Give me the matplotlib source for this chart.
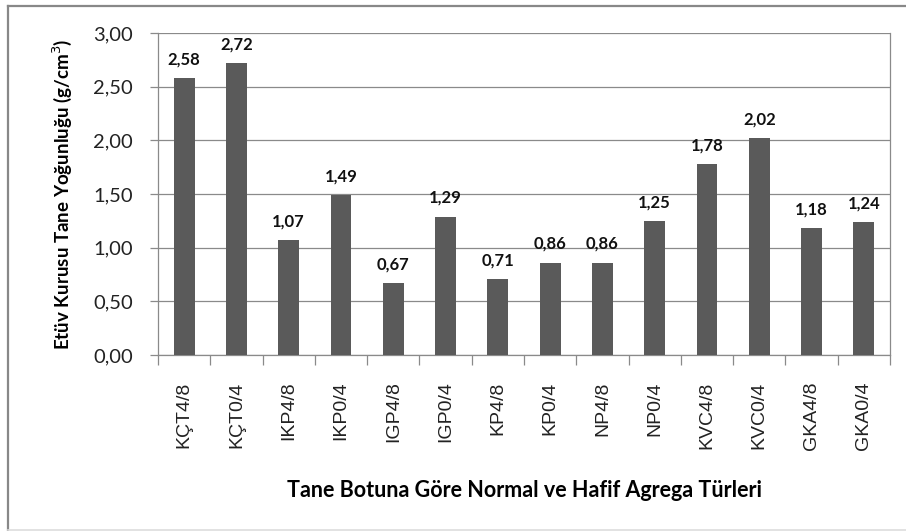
import matplotlib
matplotlib.use('Agg')
import matplotlib.pyplot as plt
from matplotlib.lines import Line2D
import numpy as np

categories = ['KÇT4/8', 'KÇT0/4', 'IKP4/8', 'IKP0/4', 'IGP4/8', 'IGP0/4', 'KP4/8',
              'KP0/4', 'NP4/8', 'NP0/4', 'KVC4/8', 'KVC0/4', 'GKA4/8', 'GKA0/4']
values = [2.58, 2.72, 1.07, 1.49, 0.67, 1.29, 0.71, 0.86, 0.86, 1.25, 1.78, 2.02, 1.18, 1.24]
yticks = [0.0, 0.5, 1.0, 1.5, 2.0, 2.5, 3.0]

def fmt(v):
    return f'{v:.2f}'.replace('.', ',')

fig = plt.figure(figsize=(9.06, 5.31), dpi=100)
ax = fig.add_axes([0.1744, 0.3315, 0.8079, 0.6064])

x = np.arange(len(categories))
bars = ax.bar(x, values, width=0.4, color='#5a5a5a', zorder=3)
for b, v in zip(bars, values):
    ax.text(b.get_x() + b.get_width() / 2, v + 0.1, fmt(v), ha='center', va='bottom',
            fontsize=12, fontweight='bold', family='Lato', color='#111111')

ax.set_xlim(-0.5, len(categories) - 0.5)
ax.set_ylim(0, 3.0)
ax.set_yticks(yticks)
ax.set_yticklabels([fmt(t) for t in yticks], family='Lato', fontsize=14.5, color='#222222')
ax.yaxis.grid(True, color='#8a8a8a', linewidth=0.9, zorder=0)

ax.set_xticks(x)
ax.set_xticklabels(categories, rotation=90, family='Liberation Sans', fontsize=14, color='#222222')
ax.tick_params(axis='x', length=0, pad=19)
ax.set_xticks(np.arange(-0.5, len(categories)), minor=True)
ax.tick_params(axis='x', which='minor', length=7, color='#8a8a8a', width=0.9)
ax.tick_params(axis='y', length=6, color='#8a8a8a', width=0.9, pad=12)

ax.spines['top'].set_visible(False)
for side in ['left', 'bottom', 'right']:
    ax.spines[side].set_color('#8a8a8a')
    ax.spines[side].set_linewidth(0.9)

ax.set_ylabel('Etüv Kurusu Tane Yoğunluğu (g/cm$^3$)', family='Lato', fontweight='bold',
              fontsize=13.5, labelpad=14)
ax.set_xlabel('Tane Botuna Göre Normal ve Hafif Agrega Türleri', family='Lato',
              fontweight='bold', fontsize=15.5, labelpad=22)

# outer chart border
fig.add_artist(Line2D([8 / 906, 8 / 906], [0, 1 - 6 / 531], transform=fig.transFigure,
                      color='#888888', linewidth=1.6))
fig.add_artist(Line2D([8 / 906, 1], [1 - 6 / 531, 1 - 6 / 531], transform=fig.transFigure,
                      color='#888888', linewidth=1.6))
fig.add_artist(Line2D([8 / 906, 1], [1 / 531, 1 / 531], transform=fig.transFigure,
                      color='#dddddd', linewidth=1.2))

fig.savefig('out.png', dpi=100)
